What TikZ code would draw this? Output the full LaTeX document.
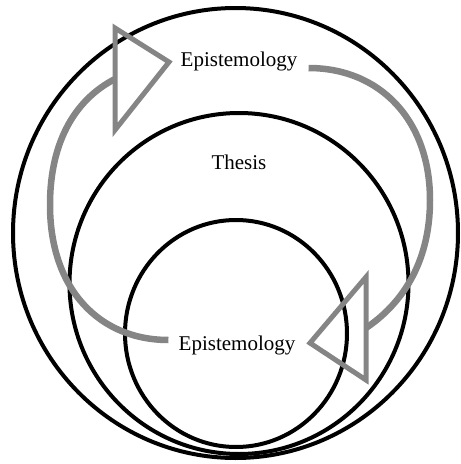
\documentclass[tikz,border=0pt]{standalone}
\usepackage{fontspec}
\setmainfont{Liberation Serif}
\usepackage{xcolor}
\usepackage{tikz}
\definecolor{arcgray}{RGB}{133,133,133}

\begin{document}
\begin{tikzpicture}[x=1pt,y=-1pt,
  ring/.style={line width=4pt},
  loop/.style={line width=6.5pt,color=arcgray},
  head/.style={line width=5pt,color=arcgray,line join=miter},
  lbl/.style={font=\fontsize{21}{25}\selectfont,inner sep=0pt}]
\useasboundingbox (0,0) rectangle (461,464);

\draw[ring] (235.5,233) ellipse (222.5 and 225);
\draw[ring] (239,283.5) ellipse (169.5 and 170.5);
\draw[ring] (236,333.5) ellipse (111 and 113.5);

\node[lbl] (epitop) at (239,61) {Epistemology};
\node[lbl] (thesis) at (239,162) {Thesis};
\node[lbl] (epibot) at (237,345) {Epistemology};

\coordinate (ltop) at (115,28);
\coordinate (lbot) at (115,130);
\coordinate (ltip) at (169,62);
\coordinate (lend) at (115,79);
\coordinate (rtop) at (366,277);
\coordinate (rbot) at (366,380);
\coordinate (rtip) at (310,343);
\coordinate (rend) at (366,328);

\draw[loop] ([xshift=11pt,yshift=-7pt]epitop.east) .. controls (380,68) and (430,120) .. (430,200)
  .. controls (430,265) and (400,305) .. (rend);
\draw[loop] ([xshift=-10pt,yshift=5pt]epibot.west) .. controls (100,340) and (50,290) .. (50,205)
  .. controls (50,138) and (78,98) .. (lend);

\draw[head] (ltop) -- (ltip) -- (lbot) -- cycle;
\draw[head] (rtop) -- (rtip) -- (rbot) -- cycle;
\end{tikzpicture}
\end{document}
